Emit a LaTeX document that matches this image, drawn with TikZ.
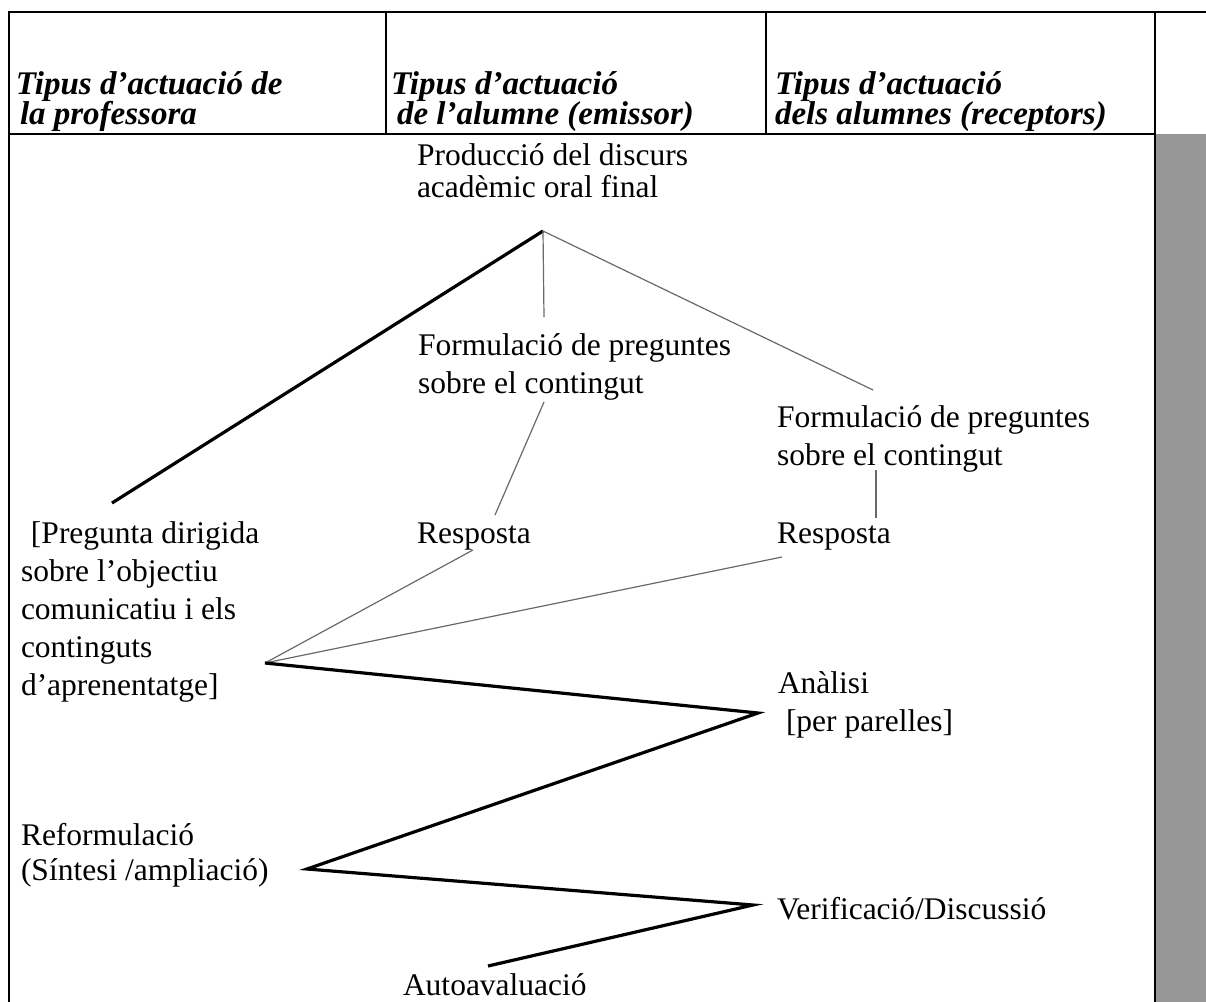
\documentclass[tikz,border=0pt]{standalone}
\usepackage{fontspec}
\setmainfont{Liberation Serif}
\usetikzlibrary{positioning}
\definecolor{scangray}{RGB}{150,150,150}
\definecolor{linkgray}{RGB}{105,105,105}
\newcommand\headfont{\fontsize{16.5}{15}\selectfont\lineskiplimit=-20pt\relax\bfseries\itshape}

\begin{document}
\begin{tikzpicture}[
  x=0.5pt,y=-0.5pt,
  every node/.style={inner sep=0pt,outer sep=0pt,anchor=base west,align=left,font=\fontsize{15.75}{19}\selectfont},
  head/.style={font=\headfont},
  rule/.style={line width=0.9pt,black},
  strong link/.style={line width=1.6pt,black},
  faint link/.style={line width=0.6pt,linkgray}
]
\useasboundingbox (0,0) rectangle (1206,1002);

% table
\fill[scangray] (1155,134) rectangle (1206,1002);
\draw[rule] (9,1002) -- (9,12) -- (1206,12);
\draw[rule] (386,12) -- (386,134);
\draw[rule] (766,12) -- (766,134);
\draw[rule] (1155,12) -- (1155,1002);
\draw[rule] (9,134) -- (1155,134);

% base anchor = last line
\node[head] (hprof) at (16,124) {Tipus d’actuació de\\ \hspace*{2pt}la professora};
\node[head] (hemis) at (391,124) {Tipus d’actuació\\ \hspace*{3pt}de l’alumne (emissor)};
\node[head] (hrecp) at (775,124) {Tipus d’actuació\\dels alumnes (receptors)};

% steps
\node[font=\fontsize{15.75}{16}\selectfont] (prod) at (417,197) {Producció del discurs\\acadèmic oral final};
\node (fqa) at (418,393) {Formulació de preguntes\\sobre el contingut};
\node (fqb) at (777,465) {Formulació de preguntes\\sobre el contingut};
\node (respa) at (417,543) {Resposta};
\node (respb) at (777,543) {Resposta};
\node (preg) at (21,695) {\hspace*{5pt}[Pregunta dirigida\\sobre l’objectiu\\comunicatiu i els\\continguts\\d’aprenentatge]};
\node (anal) at (778,731) {Anàlisi\\ \hspace*{4pt}[per parelles]};
\node[font=\fontsize{15.75}{17.5}\selectfont] (refo) at (21,880) {Reformulació\\(Síntesi /ampliació)};
\node (veri) at (777,919) {Verificació/Discussió};
\node (auto) at (403,995) {Autoavaluació};

\coordinate (prod tip) at (543,231);
\coordinate (fqa top) at (544,317);
\coordinate (fqa foot) at (544,402);
\coordinate (respa top) at (495,515);
\coordinate (respa foot) at (473,550);
\coordinate (fqb top) at (873,390);
\coordinate (fqb foot) at (876,470);
\coordinate (respb top) at (876,518);
\coordinate (respb foot) at (782,557);
\coordinate (preg top) at (112,503);
\coordinate (preg tip) at (265,663);
\coordinate (anal tip) at (758,713);
\coordinate (refo tip) at (307,869);
\coordinate (veri tip) at (753,905);
\coordinate (auto top) at (488,966);

\draw[strong link] (prod tip) -- (preg top);
\draw[faint link] (prod tip) -- (fqa top);
\draw[faint link] (prod tip) -- (fqb top);
\draw[faint link] (fqa foot) -- (respa top);
\draw[faint link] (fqb foot) -- (respb top);
\draw[faint link] (preg tip) -- (respa foot);
\draw[faint link] (preg tip) -- (respb foot);
\draw[strong link] (preg tip) -- (anal tip) -- (refo tip) -- (veri tip) -- (auto top);
\end{tikzpicture}
\end{document}
